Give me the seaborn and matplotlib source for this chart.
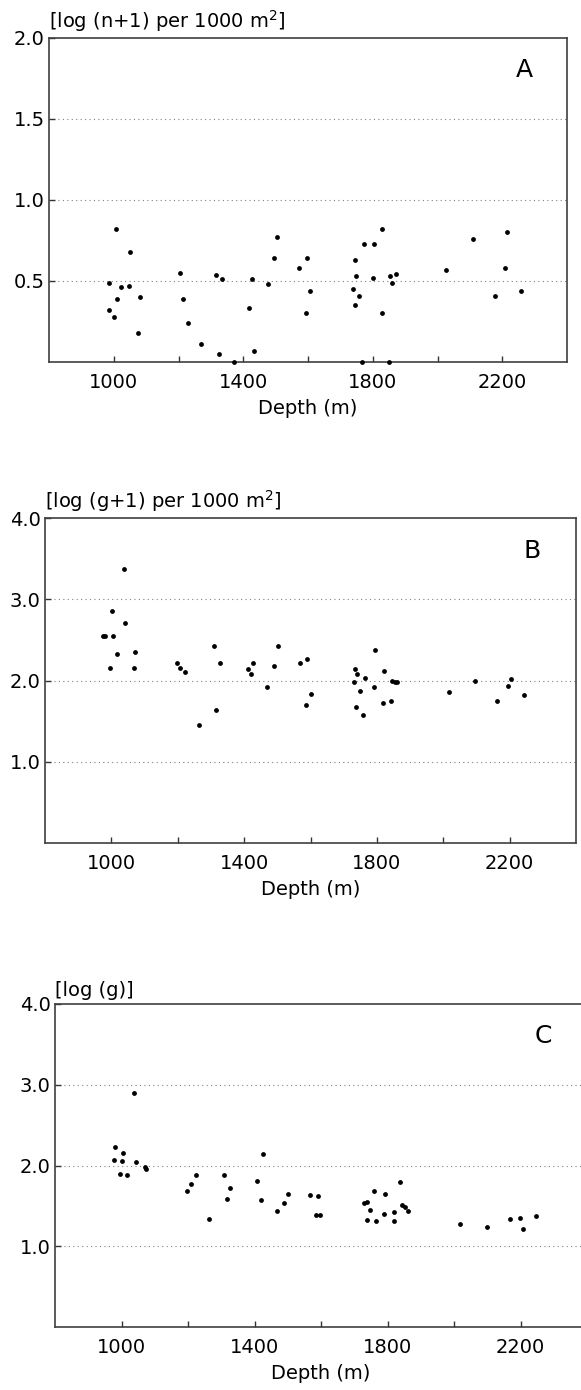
import matplotlib
matplotlib.use("Agg")
import seaborn as sns
import matplotlib.pyplot as plt

# Panel A: log(n+1) per 1000 m2 vs depth
depth_a = [984, 1008, 1049, 1023, 1046, 986, 1010, 1001, 1080, 1076,
           1205, 1214, 1229, 1269, 1316, 1334, 1324, 1370, 1417, 1427,
           1433, 1475, 1495, 1505, 1573, 1598, 1607, 1592, 1744, 1749,
           1739, 1757, 1746, 1767, 1773, 1803, 1799, 1829, 1827, 1849,
           1852, 1859, 1870, 2027, 2109, 2208, 2215, 2177, 2257]
val_a = [0.49, 0.82, 0.68, 0.46, 0.47, 0.32, 0.39, 0.28, 0.40, 0.18,
         0.55, 0.39, 0.24, 0.11, 0.535, 0.51, 0.05, 0.0, 0.33, 0.51,
         0.07, 0.48, 0.64, 0.77, 0.58, 0.64, 0.44, 0.30, 0.63, 0.53,
         0.45, 0.41, 0.35, 0.0, 0.73, 0.73, 0.52, 0.82, 0.30, 0.0,
         0.53, 0.49, 0.54, 0.57, 0.76, 0.58, 0.80, 0.41, 0.435]

# Panel B: log(g+1) per 1000 m2 vs depth
depth_b = [975, 982, 1004, 1002, 996, 1016, 1037, 1042, 1072, 1069,
           1198, 1207, 1223, 1263, 1309, 1326, 1316, 1411, 1422, 1428,
           1470, 1489, 1501, 1568, 1590, 1600, 1585, 1734, 1739, 1730,
           1765, 1748, 1738, 1758, 1793, 1790, 1821, 1819, 1841, 1845,
           1853, 1861, 2016, 2096, 2203, 2196, 2163, 2243]
val_b = [2.55, 2.55, 2.55, 2.86, 2.15, 2.33, 3.37, 2.71, 2.35, 2.15,
         2.22, 2.15, 2.11, 1.45, 2.42, 2.22, 1.64, 2.14, 2.08, 2.21,
         1.92, 2.18, 2.42, 2.22, 2.26, 1.84, 1.70, 2.14, 2.08, 1.98,
         2.03, 1.87, 1.67, 1.57, 2.37, 1.92, 2.12, 1.72, 1.75, 2.00,
         1.98, 1.98, 1.86, 2.00, 2.02, 1.93, 1.75, 1.82]

# Panel C: log(g) vs depth
depth_c = [981, 978, 1003, 1002, 995, 1017, 1037, 1043, 1071, 1074,
           1197, 1208, 1223, 1262, 1307, 1325, 1316, 1408, 1425, 1420,
           1469, 1488, 1500, 1567, 1590, 1586, 1597, 1728, 1737, 1758,
           1748, 1737, 1765, 1791, 1789, 1819, 1820, 1837, 1845, 1853,
           1861, 2018, 2099, 2167, 2198, 2206, 2245]
val_c = [2.23, 2.07, 2.16, 2.05, 1.89, 1.88, 2.90, 2.04, 1.98, 1.96,
         1.68, 1.77, 1.88, 1.34, 1.88, 1.72, 1.59, 1.81, 2.14, 1.57,
         1.44, 1.54, 1.65, 1.64, 1.62, 1.39, 1.39, 1.53, 1.55, 1.68,
         1.45, 1.32, 1.31, 1.65, 1.40, 1.42, 1.31, 1.79, 1.51, 1.49,
         1.44, 1.28, 1.24, 1.34, 1.35, 1.22, 1.38]

xticks_major = [1000, 1400, 1800, 2200]
xticks_minor = [1200, 1600, 2000]

sns.set_style("ticks")
plt.rcParams['font.family'] = ['DejaVu Sans']
plt.rcParams['text.color'] = 'black'
plt.rcParams['xtick.labelcolor'] = 'black'
plt.rcParams['ytick.labelcolor'] = 'black'
plt.rcParams['axes.labelcolor'] = 'black'

fig = plt.figure(figsize=(5.81, 13.9), dpi=100)

panels = [
    # (x, y, label, ylim, yticks, ylabels, grid levels, title, axes rect)
    (depth_a, val_a, 'A', (0, 2.0), [0.5, 1.0, 1.5, 2.0],
     ['0.5', '1.0', '1.5', '2.0'], [0.5, 1.0, 1.5],
     '[log (n+1) per 1000 m$^2$]', [0.0843, 0.7396, 0.892, 0.2331]),
    (depth_b, val_b, 'B', (0, 4.0), [1.0, 2.0, 3.0, 4.0],
     ['1.0', '2.0', '3.0', '4.0'], [1.0, 2.0, 3.0],
     '[log (g+1) per 1000 m$^2$]', [0.0775, 0.3935, 0.914, 0.2338]),
    (depth_c, val_c, 'C', (0, 4.0), [1.0, 2.0, 3.0, 4.0],
     ['1.0', '2.0', '3.0', '4.0'], [1.0, 2.0, 3.0],
     '[log (g)]', [0.0947, 0.0453, 0.9157, 0.2324]),
]

for xs, ys, letter, ylim, yt, ytl, levels, title, rect in panels:
    ax = fig.add_axes(rect)
    for lv in levels:
        ax.axhline(lv, color='0.5', lw=0.8, ls=(0, (1, 3)), zorder=0)
    sns.scatterplot(x=xs, y=ys, ax=ax, color='black', s=12,
                    linewidth=0, clip_on=False, zorder=3)
    ax.set_xlim(800, 2400)
    ax.set_ylim(*ylim)
    ax.set_xticks(xticks_major)
    ax.set_xticklabels([str(t) for t in xticks_major])
    ax.set_xticks(xticks_minor, minor=True)
    ax.set_yticks(yt)
    ax.set_yticklabels(ytl)
    ax.tick_params(axis='both', which='both', direction='in', length=4,
                   width=1, color='0.2', labelsize=14)
    ax.tick_params(axis='x', pad=8)
    ax.tick_params(axis='y', pad=3)
    for sp in ax.spines.values():
        sp.set_visible(True)
        sp.set_linewidth(1.2)
        sp.set_color('0.25')
    ax.set_xlabel('Depth (m)', fontsize=14, labelpad=5)
    ax.set_ylabel('')
    ax.text(0.0, 1.012, title, transform=ax.transAxes, ha='left',
            va='bottom', fontsize=14)
    ax.text(0.918, 0.9, letter, transform=ax.transAxes, ha='center',
            va='center', fontsize=18)

fig.savefig('out.png', dpi=100)
